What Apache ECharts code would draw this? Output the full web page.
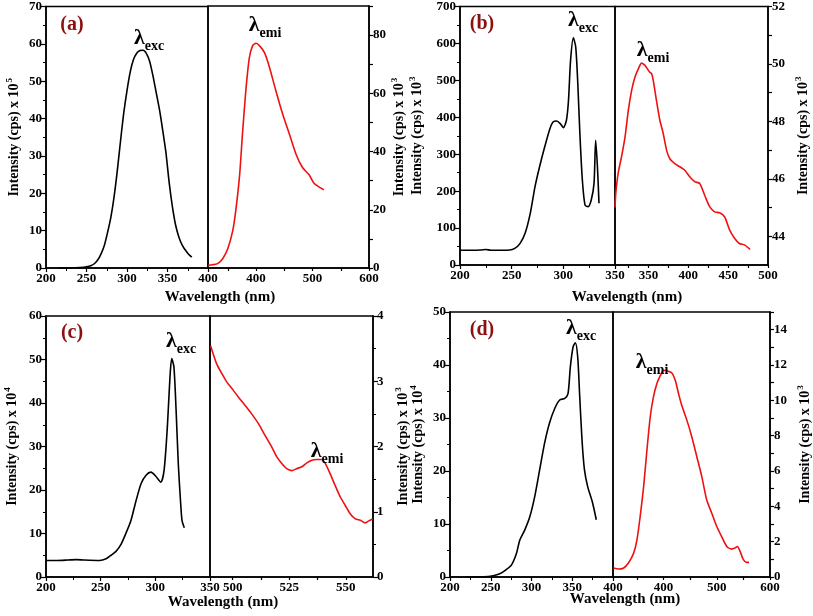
<!DOCTYPE html>
<html><head><meta charset="utf-8">
<script src="https://cdn.jsdelivr.net/npm/echarts@6/dist/echarts.min.js"></script>
<style>html,body{margin:0;padding:0;background:#fff}#c{width:813px;height:616px}</style>
</head><body><div id="c"></div><script>
// ---------- data (wavelength nm, intensity) ----------
const excA = [[215,0],[230,0.02],[242,0.15],[250,0.35],[256,0.7],[260,1.2],[264,2.2],[268,3.8],[272,6],[276,9.5],[280,13.5],[284,19],[288,26],[292,34],[296,41.5],[300,47.5],[304,52.5],[308,55.8],[312,57.5],[316,58.2],[320,58.3],[324,57.4],[328,55.3],[332,51.5],[336,47],[340,42.5],[344,37],[348,31],[352,23],[356,16.5],[360,11.5],[364,8.3],[368,6.2],[372,4.8],[376,3.7],[380,2.9]];
const emiA = [[315,0.9],[323,1.1],[332,1.5],[341,3.2],[350,6.6],[359,13],[365,21],[371,32],[376,46],[382,61],[388,72],[394,76.4],[400,77.2],[406,76.4],[415,74],[423,69.5],[435,61],[447,53],[459,46],[471,39],[482,34.6],[494,32],[503,29],[512,27.8],[520,26.9]];
const excB = [[200,40],[210,40],[220,40.5],[225,42],[230,40],[240,40],[248,40.5],[253,45],[258,58],[263,86],[268,140],[272.6,212],[277,266],[282,320],[287,369],[290,387],[293.5,390],[297,383],[300,372],[303,392],[305,446],[307,554],[309.7,615],[312,590],[314,491],[316,356],[318.4,230],[321,162],[324,158],[327,176],[329.7,221],[331.3,338],[333,266],[334.5,167]];
const emiB = [[308,45.0],[309,45.5],[312,46.2],[316.4,46.8],[320.6,47.46],[324.8,48.4],[329,49.1],[333,49.54],[337.3,49.83],[341.4,50.03],[345.6,49.95],[349.8,49.78],[352,49.7],[354,49.66],[356,49.43],[360,48.73],[364.3,48.04],[368.5,47.58],[372.7,47],[376.8,46.7],[383,46.53],[389.3,46.42],[395.6,46.3],[401.8,46.07],[408,45.9],[414.3,45.84],[420.5,45.43],[426.8,45.03],[433,44.85],[439.3,44.82],[445.5,44.68],[451.8,44.22],[458,43.93],[464,43.75],[470.5,43.7],[477.5,43.54]];
const excC = [[200,3.8],[210,3.8],[220,3.9],[228,4.0],[235,3.9],[249,3.8],[255,4.2],[259.5,5],[264,5.9],[268.6,7.5],[273,10],[277.7,13],[282,17.2],[287,21.5],[291.5,23.4],[296,24.1],[300.6,23.1],[305,21.8],[308,24.5],[311,34.5],[313.4,46],[315,50.2],[317,48.3],[319,38.3],[321,26],[323,17.6],[324.4,13],[326.5,11.3]];
const emiC = [[490.3,3.54],[492.9,3.27],[495.2,3.12],[497.4,2.99],[500.3,2.86],[502.5,2.76],[505.5,2.63],[508.4,2.5],[511.4,2.35],[514.3,2.17],[517.3,1.99],[519.5,1.84],[521.7,1.74],[523.9,1.66],[526.1,1.63],[528.3,1.66],[530.6,1.69],[532.8,1.75],[535,1.79],[537.2,1.8],[539.4,1.8],[540.9,1.74],[543.1,1.58],[545.3,1.4],[547.5,1.23],[549.7,1.1],[551.9,0.97],[554.2,0.89],[556.4,0.87],[558.6,0.83],[560.1,0.86],[561.8,0.89]];
const excD = [[220,0],[241,0.05],[253,0.25],[261,0.6],[269,1.4],[275.5,2.3],[281.6,4.5],[285.7,7],[291.8,8.9],[298,11.4],[304,15.2],[310,20.2],[316,25.2],[322,29],[328.5,31.8],[334.6,33.4],[340.8,33.7],[344.8,34.6],[347.7,39.7],[351,43.4],[353.8,44.2],[356.7,41.5],[359,34.6],[362,25.8],[365,20.2],[369,17],[374.6,14.2],[379.5,10.8]];
const emiD = [[306,0.51],[315.6,0.45],[325,0.51],[334,0.79],[343.8,1.35],[350,2.1],[356,3.42],[362.5,5.1],[368.8,7.2],[375,9.07],[381,10.2],[387.5,10.95],[393.8,11.4],[400,11.7],[406,11.67],[415.6,11.55],[422,11.14],[428,10.4],[434,9.73],[443.8,8.88],[453,7.94],[462.5,6.81],[471.9,5.68],[481,4.37],[490.6,3.61],[500,2.86],[509,2.3],[518.8,1.73],[528,1.58],[534,1.64],[538.8,1.73],[543.8,1.45],[550,0.98],[556,0.83],[560.6,0.83]];

// tick label values for the emission axes
const xLabA = [400,500,600], xTickA = [350,400,450,500,550,600];
const yLabA = [0,20,40,60,80], yTickA = [0,10,20,30,40,50,60,70,80,90];
const xLabB = [350,400,450,500], xTickB = [325,350,375,400,425,450,475,500];
const yLabB = [44,46,48,50,52], yTickB = [44,45,46,47,48,49,50,51,52];
const xLabC = [500,525,550], xTickC = [500,512.5,525,537.5,550];
const xLabD = [400,500,600], xTickD = [350,400,450,500,550,600];
const yLabD = [0,2,4,6,8,10,12,14], yTickD = [0,1,2,3,4,5,6,7,8,9,10,11,12,13,14,15];

// ---------- chart ----------
const FONT = '"Liberation Serif","Times New Roman",serif';
const grids = [], xAxes = [], yAxes = [], series = [];
const lbl = (m) => ({margin:m, fontFamily:FONT, fontWeight:'bold', fontSize:13, color:'#000'});
function addGrid(left, top, width, height){
  grids.push({left, top, width, height, show:true, borderColor:'#000', borderWidth:1.5, backgroundColor:'rgba(0,0,0,0)'});
  return grids.length - 1;
}
function xAx(gi, min, max, interval, labs, ticks){
  const a = {type:'value', gridIndex:gi, min, max, position:'bottom',
    axisLine:{show:true, onZero:false, lineStyle:{color:'#000', width:1.5}},
    axisTick:{show:true, length:4, lineStyle:{color:'#000', width:1.2}},
    splitLine:{show:false}, axisLabel:lbl(4)};
  if (labs){ a.axisLabel.customValues = labs; a.axisTick.customValues = ticks; a.axisTick.length = 3; }
  else { a.interval = interval; a.minorTick = {show:true, splitNumber:2, length:3, lineStyle:{color:'#000', width:1}}; }
  xAxes.push(a);
}
function yAx(gi, min, max, interval, labs, ticks, pos, name, gap){
  const a = {type:'value', gridIndex:gi, min, max, position:pos,
    axisLine:{show:true, onZero:false, lineStyle:{color:'#000', width:1.5}},
    axisTick:{show:true, length:5, lineStyle:{color:'#000', width:1.2}},
    splitLine:{show:false}, axisLabel:lbl(4),
    name, nameLocation:'middle', nameGap:gap,
    nameTextStyle:{fontFamily:FONT, fontWeight:'bold', fontSize:14, color:'#000',
      rich:{t:{fontFamily:FONT, fontWeight:'bold', fontSize:14, color:'#000', verticalAlign:'bottom'},
            sup:{fontFamily:FONT, fontWeight:'bold', fontSize:9, color:'#000', verticalAlign:'bottom', padding:[0,0,7,1]}}}};
  if (labs){ a.axisLabel.customValues = labs; a.axisTick.customValues = ticks; a.axisTick.length = 4; }
  else { a.interval = interval; a.minorTick = {show:true, splitNumber:2, length:3, lineStyle:{color:'#000', width:1}}; }
  yAxes.push(a);
}
function addLine(gi, data, color){
  series.push({type:'line', xAxisIndex:gi, yAxisIndex:gi, data, showSymbol:false, symbol:'none',
    smooth:0.25, lineStyle:{color, width:1.6}, animation:false});
}
const T = (p) => '{t|Intensity (cps) x 10}{sup|' + p + '}';
const BLACK = '#000', RED = '#ee1111';
// (a)
let g = addGrid(46, 6, 162, 262);
xAx(g, 200, 400, 50); yAx(g, 0, 70, 10, null, null, 'left', T(5), 25); addLine(g, excA, BLACK);
g = addGrid(208, 6, 161, 262);
xAx(g, 315, 600, null, xLabA, xTickA); yAx(g, 0, 90, null, yLabA, yTickA, 'right', T(3), 20); addLine(g, emiA, RED);
// (b)
g = addGrid(460, 6, 155, 259);
xAx(g, 200, 350, 50); yAx(g, 0, 700, 100, null, null, 'left', T(3), 36); addLine(g, excB, BLACK);
g = addGrid(615, 6, 153, 259);
xAx(g, 308, 500, null, xLabB, xTickB); yAx(g, 43, 52, null, yLabB, yTickB, 'right', T(3), 26); addLine(g, emiB, RED);
// (c)
g = addGrid(46, 316, 164, 261);
xAx(g, 200, 350, 50); yAx(g, 0, 60, 10, null, null, 'left', T(4), 27); addLine(g, excC, BLACK);
g = addGrid(210, 316, 163, 261);
xAx(g, 490, 562, null, xLabC, xTickC); yAx(g, 0, 4, 1, null, null, 'right', T(3), 21); addLine(g, emiC, RED);
// (d)
g = addGrid(450, 312, 163, 265);
xAx(g, 200, 400, 50); yAx(g, 0, 50, 10, null, null, 'left', T(4), 25); addLine(g, excD, BLACK);
g = addGrid(613, 312, 157, 265);
xAx(g, 305, 600, null, xLabD, xTickD); yAx(g, 0, 15, null, yLabD, yTickD, 'right', T(3), 26); addLine(g, emiD, RED);

function txt(x, y, text, size, color){
  return {type:'text', x, y, z:100, style:{text, fill:color, fontFamily:FONT, fontWeight:'bold', fontSize:size, align:'center', verticalAlign:'middle'}};
}
function lam(x, y, sub){
  return {type:'text', x, y, z:100, style:{text:'{l|λ}{s|' + sub + '}', align:'center', verticalAlign:'middle',
    rich:{l:{fontFamily:FONT, fontWeight:'bold', fontSize:22, fill:'#000', verticalAlign:'bottom', padding:[0,0,4,0]},
          s:{fontFamily:FONT, fontWeight:'bold', fontSize:14, fill:'#000', verticalAlign:'bottom'}}}};
}
const DR = '#8b1010';
const graphic = [
  txt(72, 25, '(a)', 20, DR), txt(482, 24, '(b)', 20, DR), txt(72, 333, '(c)', 20, DR), txt(482, 330, '(d)', 20, DR),
  txt(220, 297, 'Wavelength (nm)', 15, '#000'), txt(627, 297, 'Wavelength (nm)', 15, '#000'),
  txt(223, 602, 'Wavelength (nm)', 15, '#000'), txt(625, 599, 'Wavelength (nm)', 15, '#000'),
  lam(149, 40, 'exc'), lam(265, 27, 'emi'), lam(583, 22, 'exc'), lam(653, 52, 'emi'),
  lam(181, 343, 'exc'), lam(327, 453, 'emi'), lam(581, 330, 'exc'), lam(652, 364, 'emi')
];

const chart = echarts.init(document.getElementById('c'), null, {renderer:'canvas'});
chart.setOption({backgroundColor:'#fff', animation:false, grid:grids, xAxis:xAxes, yAxis:yAxes, series, graphic});
</script></body></html>
